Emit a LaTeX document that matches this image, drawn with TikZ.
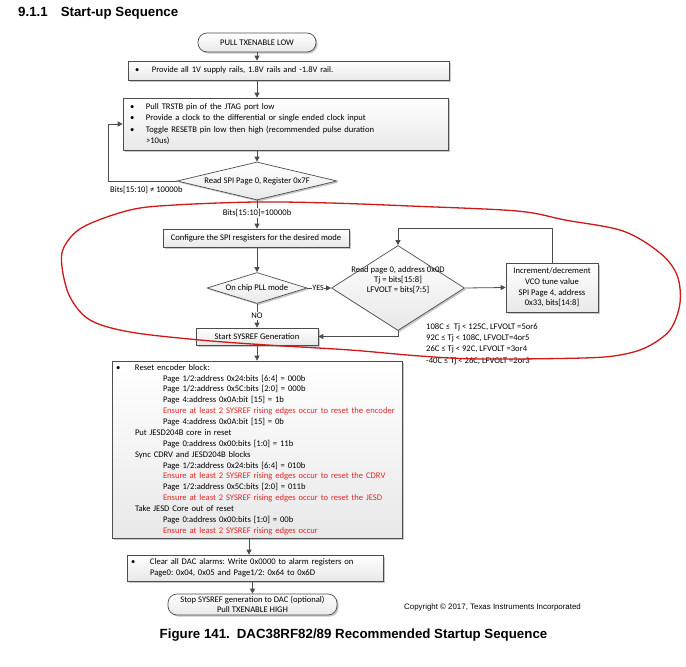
\documentclass[tikz,border=0pt]{standalone}
\usepackage{fontspec}
\setmainfont{Carlito}
\newfontfamily\arialfont{Liberation Sans}
\usetikzlibrary{shapes.geometric,arrows.meta,shadows}
\definecolor{edge}{HTML}{4D4D4D}
\definecolor{redtxt}{HTML}{E02828}
\definecolor{redline}{HTML}{D01818}
\newcommand{\fs}{\fontsize{8.6}{11}\selectfont}
\tikzset{
  base/.style={draw=edge, line width=0.7pt, top color=white, bottom color=black!9,
    drop shadow={shadow xshift=1.6pt, shadow yshift=-1.6pt, fill=black!40, opacity=0.55},
    inner sep=0pt, font=\fs},
  procbox/.style={base, rectangle},
  termbox/.style={base, rectangle, rounded corners=9pt},
  decbox/.style={base, diamond},
  dtext/.style={inner sep=0pt, align=center, font=\fontsize{8.6}{10}\selectfont},
  arr/.style={draw=edge, line width=0.8pt, -{Triangle[length=5pt,width=5pt]}},
  lbl/.style={font=\fs, inner sep=1pt},
  wlbl/.style={lbl, fill=white},
}
\begin{document}
\frenchspacing
\begin{tikzpicture}[x=1pt,y=-1pt]
\fill[white] (0,0) rectangle (686,667);
\useasboundingbox (0,0) rectangle (686,667);

% title
\node[anchor=west, inner sep=0pt, font=\arialfont\bfseries\fontsize{13.3}{15}\selectfont] (title) at (18,13) {9.1.1\hspace{13pt}Start-up Sequence};

% nodes
\node[termbox, minimum width=118pt, minimum height=19pt] (t1) at (257,42.5) {PULL TXENABLE LOW};

\node[procbox, minimum width=321pt, minimum height=19pt, text width=307pt, align=left,
  font=\fontsize{8.5}{10}\selectfont] (b2) at (288.5,70.5)
  {\makebox[17pt][l]{\textbullet}Provide all 1V supply rails, 1.8V rails and -1.8V rail.};

\node[procbox, minimum width=325pt, minimum height=52pt, text width=311pt, align=left,
  font=\fontsize{8.6}{11.3}\selectfont] (b3) at (285.5,124)
  {\makebox[16pt][l]{\textbullet}Pull TRSTB pin of the JTAG port low\\
   \makebox[16pt][l]{\textbullet}Provide a clock to the differential or single ended clock input\\
   \makebox[16pt][l]{\textbullet}Toggle RESETB pin low then high (recommended pulse duration\\
   \hspace*{16pt}>10us)};

\node[decbox, minimum width=160pt, minimum height=38pt] (d1) at (257,181) {};
\node[dtext] (d1t) at (d1.center) {Read SPI Page 0, Register 0x7F};

\node[procbox, minimum width=186pt, minimum height=18pt] (cfg) at (256,238) {Configure the SPI resgisters for the desired mode};

\node[decbox, minimum width=100pt, minimum height=31pt] (d2) at (257,288) {};
\node[dtext] (d2t) at (d2.center) {On chip PLL mode};

\node[decbox, minimum width=133pt, minimum height=85pt] (d3) at (398,288) {};
\node[dtext] (d3t) at (398,280) {Read page 0, address 0x0D\\Tj = bits[15:8]\\LFVOLT = bits[7:5]};

\node[procbox, minimum width=92pt, minimum height=49pt, align=center,
  font=\fontsize{8.6}{10.7}\selectfont] (vco) at (552,287.5)
  {Increment/decrement\\VCO tune value\\SPI Page 4, address\\0x33, bits[14:8]};

\node[procbox, minimum width=122pt, minimum height=17pt] (sys) at (257,336.5) {Start SYSREF Generation};

\node[anchor=west, align=left, inner sep=1pt, font=\fontsize{8.6}{11.2}\selectfont] (temp) at (425,344)
  {108C ≤\ \ Tj < 125C, LFVOLT =5or6\\
   92C ≤ Tj < 108C, LFVOLT=4or5\\
   26C ≤ Tj < 92C, LFVOLT =3or4\\
   -40C ≤ Tj < 26C, LFVOLT =2or3};

\node[procbox, minimum width=290pt, minimum height=177pt, text width=282pt, align=left,
  font=\fontsize{8.6}{10.87}\selectfont] (big) at (257,449.5)
  {\makebox[19pt][l]{\textbullet}Reset encoder block:\\
   \hspace*{47pt}Page 1/2:address 0x24:bits [6:4] = 000b\\
   \hspace*{47pt}Page 1/2:address 0x5C:bits [2:0] = 000b\\
   \hspace*{47pt}Page 4:address 0x0A:bit [15] = 1b\\
   \hspace*{47pt}\mbox{\textcolor{redtxt}{Ensure at least 2 SYSREF rising edges occur to reset the encoder}}\\
   \hspace*{47pt}Page 4:address 0x0A:bit [15] = 0b\\
   \hspace*{19pt}Put JESD204B core in reset\\
   \hspace*{47pt}Page 0:address 0x00:bits [1:0] = 11b\\
   \hspace*{19pt}Sync CDRV and JESD204B blocks\\
   \hspace*{47pt}Page 1/2:address 0x24:bits [6:4] = 010b\\
   \hspace*{47pt}\mbox{\textcolor{redtxt}{Ensure at least 2 SYSREF rising edges occur to reset the CDRV}}\\
   \hspace*{47pt}Page 1/2:address 0x5C:bits [2:0] = 011b\\
   \hspace*{47pt}\mbox{\textcolor{redtxt}{Ensure at least 2 SYSREF rising edges occur to reset the JESD}}\\
   \hspace*{19pt}Take JESD Core out of reset\\
   \hspace*{47pt}Page 0:address 0x00:bits [1:0] = 00b\\
   \hspace*{47pt}\mbox{\textcolor{redtxt}{Ensure at least 2 SYSREF rising edges occur}}};

\node[procbox, minimum width=256pt, minimum height=26pt, text width=248pt, align=left,
  font=\fontsize{8.6}{11}\selectfont] (clr) at (255,568)
  {\makebox[19pt][l]{\textbullet}Clear all DAC alarms: Write 0x0000 to alarm registers on\\
   \hspace*{19pt}Page0: 0x04, 0x05 and Page1/2: 0x64 to 0x6D};

\node[termbox, minimum width=169pt, minimum height=21pt, align=center,
  font=\fontsize{8.6}{10.3}\selectfont] (t2) at (252.5,604.5)
  {Stop SYSREF generation to DAC (optional)\\Pull TXENABLE HIGH};

\node[anchor=west, inner sep=0pt, font=\arialfont\fontsize{7.9}{9}\selectfont] (copy) at (404,607)
  {Copyright © 2017, Texas Instruments Incorporated};

\node[inner sep=0pt, font=\arialfont\bfseries\fontsize{13.3}{15}\selectfont] (cap) at (353.5,635)
  {Figure 141.\hspace{7pt}DAC38RF82/89 Recommended Startup Sequence};

% connectors
\coordinate (lb) at (108,181);
\coordinate (lt) at (552,228);
\draw[arr] (t1.south) -- (t1.south |- b2.north);
\draw[arr] (t1.south |- b2.south) -- (t1.south |- b3.north);
\draw[arr] (t1.south |- b3.south) -- (d1.north);
\draw[arr] (d1.west) -- (lb) |- (b3.west);
\node[lbl, anchor=west] (lno1) at (109,190) {Bits[15:10] ≠ 10000b};
\draw[arr] (d1.south) -- (d1.south |- cfg.north) node[wlbl, pos=0.45] (lyes1) {Bits[15:10]=10000b};
\draw[arr] (d1.south |- cfg.south) -- (d2.north);
\draw[arr] (d2.east) -- (d3.west) node[wlbl, pos=0.45, inner sep=0.5pt, font=\fontsize{8}{9}\selectfont] (lyes) {YES};
\draw[arr] (d2.south) -- (sys.north) node[wlbl, pos=0.5] (lno) {NO};
\draw[arr] (d3.east) -- (vco.west);
\draw[arr] (vco.north) -- (vco.north |- lt) -| (d3.north);
\draw[arr] (d3.south) |- (sys.east);
\draw[arr] (sys.south) -- (sys.south |- big.north);
\draw[arr] ([xshift=-8pt]big.south) -- ([xshift=-8pt]big.south |- clr.north);
\draw[arr] (t2.north |- clr.south) -- (t2.north);

% red hand-drawn loop
\draw[redline, line width=1.3pt] plot[smooth cycle, tension=0.55] coordinates {
 (130,210) (175,205) (256,202) (330,203) (410,206) (517,211) (565,220) (623,231)
 (660,253) (677,275) (680,303) (670,330) (647,347) (620,355) (583,358) (480,359)
 (420,356) (350,350) (267,345) (200,340) (130,332) (90,320) (70,297) (62,267)
 (64,247) (83,227)};
\end{tikzpicture}
\end{document}
